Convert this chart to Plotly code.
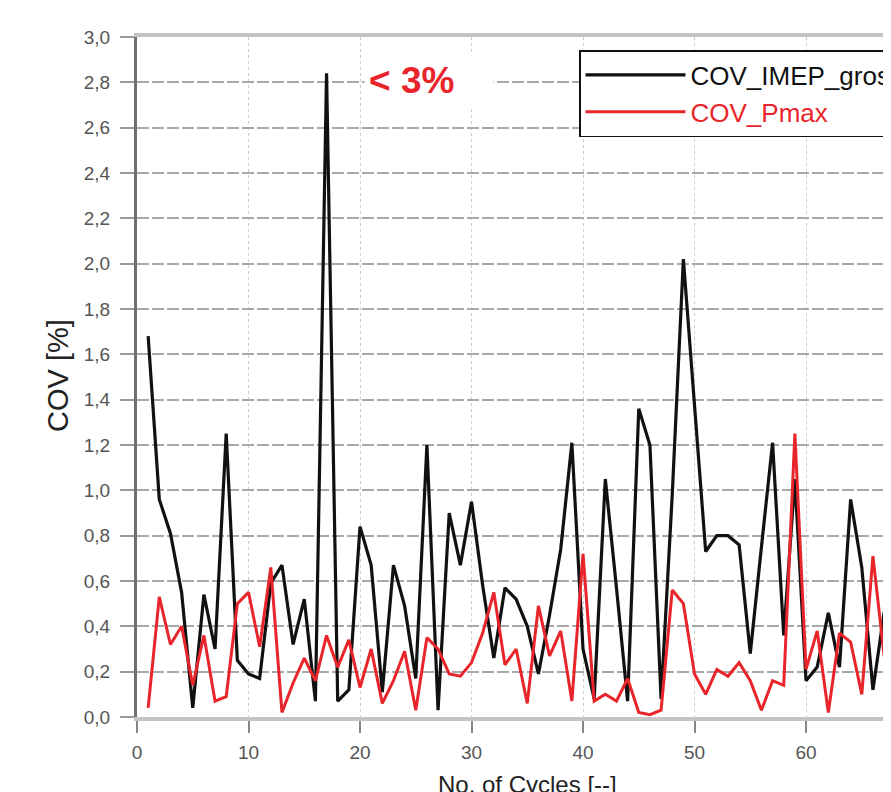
import plotly.graph_objects as go

cycles = list(range(1, 69))

cov_imep_gross = [
    1.68, 0.96, 0.81, 0.55, 0.04, 0.54, 0.30, 1.25, 0.25, 0.19,
    0.17, 0.59, 0.67, 0.32, 0.52, 0.07, 2.84, 0.07, 0.12, 0.84,
    0.67, 0.11, 0.67, 0.49, 0.17, 1.20, 0.03, 0.90, 0.67, 0.95,
    0.58, 0.26, 0.57, 0.52, 0.40, 0.19, 0.45, 0.74, 1.21, 0.30,
    0.08, 1.05, 0.57, 0.07, 1.36, 1.20, 0.08, 0.98, 2.02, 1.38,
    0.73, 0.80, 0.80, 0.76, 0.28, 0.75, 1.21, 0.36, 1.05, 0.16,
    0.22, 0.46, 0.22, 0.96, 0.66, 0.12, 0.46, 0.58,
]

cov_pmax = [
    0.04, 0.53, 0.32, 0.40, 0.14, 0.36, 0.07, 0.09, 0.50, 0.55,
    0.31, 0.66, 0.02, 0.15, 0.26, 0.16, 0.36, 0.22, 0.34, 0.13,
    0.30, 0.06, 0.16, 0.29, 0.03, 0.35, 0.30, 0.19, 0.18, 0.24,
    0.37, 0.55, 0.23, 0.30, 0.06, 0.49, 0.27, 0.38, 0.07, 0.72,
    0.07, 0.10, 0.07, 0.17, 0.02, 0.01, 0.03, 0.56, 0.50, 0.19,
    0.10, 0.21, 0.18, 0.24, 0.16, 0.03, 0.16, 0.14, 1.25, 0.21,
    0.38, 0.02, 0.37, 0.33, 0.10, 0.71, 0.27, 0.25,
]

series_names = ["COV_IMEP_gross", "COV_Pmax"]
x_ticks = [0, 10, 20, 30, 40, 50, 60]
y_ticks = [round(0.2 * i, 1) for i in range(16)]

RED = "#e8252a"
NARROW = "Liberation Sans Narrow, Arial Narrow, Liberation Sans, Arial, sans-serif"
SANS = "Liberation Sans, Arial, sans-serif"

fig = go.Figure()
fig.add_trace(go.Scatter(
    x=cycles, y=cov_imep_gross, mode="lines", name=series_names[0],
    line=dict(color="#111111", width=3.2),
))
fig.add_trace(go.Scatter(
    x=cycles, y=cov_pmax, mode="lines",
    name="<span style='color:%s'>%s</span>" % (RED, series_names[1]),
    line=dict(color=RED, width=3),
))

fig.update_layout(
    width=883, height=784,
    margin=dict(l=129, r=0, t=29, b=75, autoexpand=False),
    paper_bgcolor="white", plot_bgcolor="white",
    separators=",.",
    font=dict(family=SANS, color="#333333"),
    showlegend=True,
    legend=dict(
        x=(579 - 137) / 754, y=1 - (50 - 37) / 680,
        xanchor="left", yanchor="top",
        bgcolor="white", bordercolor="#111111", borderwidth=1.5,
        font=dict(family=SANS, size=26, color="#111111"),
        itemwidth=100, tracegroupgap=0,
    ),
    xaxis=dict(
        range=[0, 67.62], tickvals=x_ticks, ticktext=[str(v) for v in x_ticks],
        showgrid=True, gridcolor="#cccccc", gridwidth=1.2, griddash="dot",
        showline=True, linecolor="#c4c4c4", linewidth=4, mirror=True,
        ticks="outside", ticklen=12, tickwidth=1.5, tickcolor="#888888",
        ticklabelstandoff=3,
        tickfont=dict(family=SANS, size=19, color="#555555"),
        zeroline=False,
    ),
    yaxis=dict(
        range=[0, 3.0], tickvals=y_ticks, tickformat=".1f",
        showgrid=True, gridcolor="#a8a8a8", gridwidth=1.6, griddash="12px,3px",
        showline=True, linecolor="#707070", linewidth=3,
        ticks="outside", ticklen=14, tickwidth=1.5, tickcolor="#999999",
        ticklabelstandoff=6,
        tickfont=dict(family=SANS, size=19, color="#555555"),
        zeroline=False,
    ),
    annotations=[
        dict(
            text="< 3%", x=20.36, y=2.81, xref="x", yref="y",
            xanchor="left", yanchor="middle", showarrow=False,
            width=120, align="left", borderpad=4, bgcolor="white",
            font=dict(family=NARROW, size=37, color=RED, weight="bold"),
        ),
        dict(
            text="COV [%]", x=(58 - 137) / 754, y=(717 - 376) / 680,
            xref="paper", yref="paper", textangle=-90, showarrow=False,
            xanchor="center", yanchor="middle",
            font=dict(family=SANS, size=29, color="#222222"),
        ),
        dict(
            text="No. of Cycles [--]", x=35, y=-(769 - 717) / 680,
            xref="x", yref="paper", xanchor="center", yanchor="top",
            showarrow=False,
            font=dict(family=SANS, size=24, color="#222222"),
        ),
    ],
)

fig.write_html("out.html")
